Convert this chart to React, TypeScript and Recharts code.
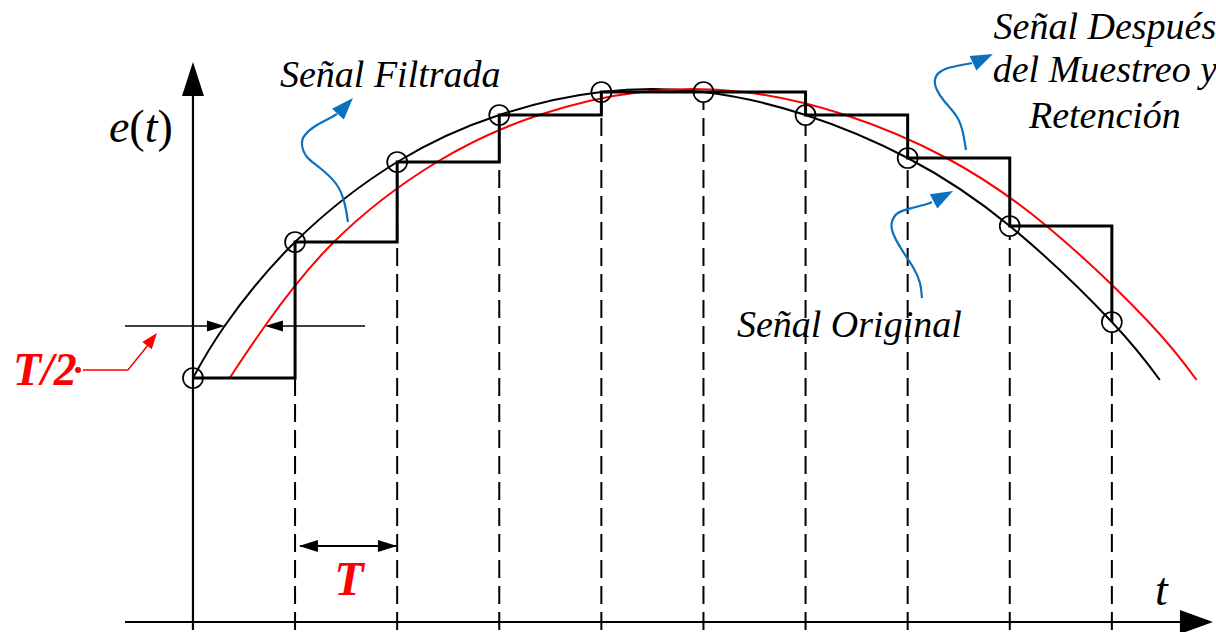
import React from "react"
import { ComposedChart, Line, XAxis, YAxis, ReferenceLine, ReferenceDot } from "recharts"

// muestras e(kT), k = 0..9
const SAMPLE_T = [0, 1, 2, 3, 4, 5, 6, 7, 8, 9]
const SAMPLE_E = [2.44, 3.8, 4.6, 5.07, 5.3, 5.3, 5.07, 4.64, 3.96, 3.0]

// señal original (negra)
const ORIG_T = [0, 0.31, 1, 2, 3, 4, 5, 6, 7, 8, 9, 9.47]
const ORIG_E = [2.44, 2.96, 3.8, 4.6, 5.07, 5.3, 5.3, 5.07, 4.64, 3.96, 3.0, 2.42]

// señal filtrada (roja)
const FILT_T = [0.36, 0.705, 1.38, 2.39, 3.39, 4.39, 5.39, 6.39, 7.38, 8.36, 9.36, 9.83]
const FILT_E = [2.44, 2.96, 3.8, 4.6, 5.07, 5.3, 5.3, 5.07, 4.64, 3.96, 3.0, 2.42]

// flechas azules
const BLUE1_T = [1.518, 1.489, 1.41, 1.244, 1.117, 1.068, 1.097, 1.214, 1.342, 1.41]
const BLUE1_E = [4.0, 4.17, 4.37, 4.54, 4.65, 4.77, 4.87, 4.97, 5.04, 5.08]
const BLUE2_T = [7.571, 7.542, 7.483, 7.365, 7.287, 7.267, 7.316, 7.434, 7.581, 7.63]
const BLUE2_E = [4.72, 4.89, 5.05, 5.2, 5.32, 5.42, 5.5, 5.55, 5.58, 5.59]
const BLUE3_T = [7.14, 7.12, 7.052, 6.944, 6.856, 6.846, 6.905, 7.042, 7.189, 7.238]
const BLUE3_E = [3.24, 3.39, 3.55, 3.72, 3.89, 4.0, 4.09, 4.14, 4.18, 4.2]

// indicador rojo de T/2
const LEAD_T = [-1.126, -0.637, -0.4]
const LEAD_E = [2.52, 2.52, 2.82]

const pts = (ts: number[], es: number[]) => ts.map((t, i) => ({ t, e: es[i] }))

const samples = pts(SAMPLE_T, SAMPLE_E)
const orig = pts(ORIG_T, ORIG_E)
const filt = pts(FILT_T, FILT_E)
const blue1 = pts(BLUE1_T, BLUE1_E)
const blue2 = pts(BLUE2_T, BLUE2_E)
const blue3 = pts(BLUE3_T, BLUE3_E)
const lead = pts(LEAD_T, LEAD_E)

const BLUE = "#0a70c0"
const RED = "#ff0000"
const SERIF = "'Liberation Serif', 'Times New Roman', serif"

function head(angle: number, len: number, hw: number, color: string) {
  return (p: any) => (
    <polygon
      points={`0,0 ${-len},${-hw} ${-len},${hw}`}
      transform={`translate(${p.cx},${p.cy}) rotate(${angle})`}
      fill={color}
    />
  )
}

function label(content: React.ReactNode, opts: any = {}) {
  return (p: any) => (
    <text
      x={p.cx}
      y={p.cy}
      fontFamily={SERIF}
      fontStyle="italic"
      fontSize={38}
      fill="#000"
      {...opts}
    >
      {content}
    </text>
  )
}

export default function App() {
  return (
    <div style={{ position: "absolute", left: 0, top: 0, background: "#fff" }}>
      <ComposedChart width={1216} height={632} margin={{ top: 0, right: 0, bottom: 0, left: 0 }}>
        <XAxis type="number" dataKey="t" domain={[-1.89, 10.02]} allowDataOverflow hide />
        <YAxis type="number" dataKey="e" domain={[-0.1, 6.22]} allowDataOverflow hide />

        {/* ejes */}
        <ReferenceLine segment={[{ x: 0, y: -0.08 }, { x: 0, y: 5.3 }]} stroke="#000" strokeWidth={2.2} />
        <ReferenceLine segment={[{ x: -0.666, y: 0 }, { x: 9.7, y: 0 }]} stroke="#000" strokeWidth={2} />
        <ReferenceDot x={0} y={5.6} shape={head(-90, 34, 11, "#000")} />
        <ReferenceDot x={9.99} y={0} shape={head(0, 33, 12, "#000")} />

        {/* lineas punteadas de muestreo */}
        {SAMPLE_T.slice(1).map((t, i) => (
          <ReferenceLine
            key={t}
            segment={[{ x: t, y: -0.08 }, { x: t, y: SAMPLE_E[i + 1] - 0.1 }]}
            stroke="#000"
            strokeWidth={2}
            strokeDasharray="18 8"
          />
        ))}

        {/* T/2 */}
        <ReferenceLine segment={[{ x: -0.666, y: 2.96 }, { x: 0.28, y: 2.96 }]} stroke="#000" strokeWidth={1.5} />
        <ReferenceLine segment={[{ x: 1.685, y: 2.96 }, { x: 0.74, y: 2.96 }]} stroke="#000" strokeWidth={1.5} />
        <ReferenceDot x={0.313} y={2.96} shape={head(0, 18, 5.5, "#000")} />
        <ReferenceDot x={0.705} y={2.96} shape={head(180, 18, 5.5, "#000")} />

        {/* T */}
        <ReferenceLine segment={[{ x: 1.05, y: 0.76 }, { x: 1.99, y: 0.76 }]} stroke="#000" strokeWidth={2} />
        <ReferenceDot x={1.038} y={0.76} shape={head(180, 19, 6, "#000")} />
        <ReferenceDot x={1.998} y={0.76} shape={head(0, 19, 6, "#000")} />

        <Line data={orig} dataKey="e" type="natural" stroke="#000" strokeWidth={2} dot={false} isAnimationActive={false} />
        <Line data={filt} dataKey="e" type="natural" stroke={RED} strokeWidth={2} dot={false} isAnimationActive={false} />
        <Line data={samples} dataKey="e" type="stepAfter" stroke="#000" strokeWidth={3} dot={false} isAnimationActive={false} />
        <Line
          data={samples}
          dataKey="e"
          stroke="none"
          dot={{ r: 10, fill: "none", stroke: "#000", strokeWidth: 1.7 }}
          isAnimationActive={false}
        />

        <Line data={blue1} dataKey="e" type="natural" stroke={BLUE} strokeWidth={2.2} dot={false} isAnimationActive={false} />
        <Line data={blue2} dataKey="e" type="natural" stroke={BLUE} strokeWidth={2.2} dot={false} isAnimationActive={false} />
        <Line data={blue3} dataKey="e" type="natural" stroke={BLUE} strokeWidth={2.2} dot={false} isAnimationActive={false} />
        <ReferenceDot x={1.567} y={5.24} shape={head(-47, 22, 8, BLUE)} />
        <ReferenceDot x={7.835} y={5.68} shape={head(-25, 22, 8, BLUE)} />
        <ReferenceDot x={7.444} y={4.31} shape={head(-28, 22, 8, BLUE)} />

        <Line data={lead} dataKey="e" type="linear" stroke={RED} strokeWidth={1.5} dot={false} isAnimationActive={false} />
        <ReferenceDot x={-0.353} y={2.89} shape={head(-52, 16, 6, RED)} />

        {/* textos */}
        <ReferenceDot x={-1.763} y={2.37} shape={label("T/2", { fill: RED, fontWeight: "bold", fontSize: 46 })} />
        <ReferenceDot x={1.528} y={0.27} shape={label("T", { fill: RED, fontWeight: "bold", fontSize: 48, textAnchor: "middle" })} />
        <ReferenceDot
          x={-0.823}
          y={4.8}
          shape={label(
            <>
              <tspan>e</tspan>
              <tspan fontStyle="normal">(</tspan>
              <tspan>t</tspan>
              <tspan fontStyle="normal">)</tspan>
            </>,
            { fontSize: 46 }
          )}
        />
        <ReferenceDot x={9.422} y={0.17} shape={label("t", { fontSize: 46 })} />
        <ReferenceDot x={0.852} y={5.35} shape={label("Señal Filtrada")} />
        <ReferenceDot x={5.328} y={2.85} shape={label("Señal Original")} />
        <ReferenceDot x={8.932} y={5.83} shape={label("Señal Después", { textAnchor: "middle" })} />
        <ReferenceDot x={8.932} y={5.4} shape={label("del Muestreo y", { textAnchor: "middle" })} />
        <ReferenceDot x={8.932} y={4.94} shape={label("Retención", { textAnchor: "middle" })} />
      </ComposedChart>
    </div>
  )
}
